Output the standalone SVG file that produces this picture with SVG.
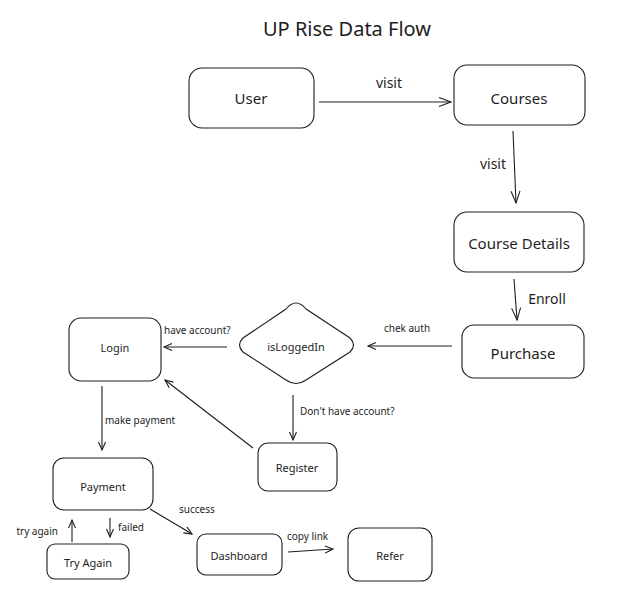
<svg xmlns="http://www.w3.org/2000/svg" width="621" height="613" viewBox="0 0 621 613">
<defs>
<style>
.box{fill:#fff;stroke:#1e1e1e;stroke-width:1.1}
.t{font-family:"Noto Sans","Liberation Sans",sans-serif;fill:#1e1e1e;text-anchor:middle;dominant-baseline:central}
.big{font-size:15px}
.sm{font-size:11px}
.lbl{font-family:"Noto Sans","Liberation Sans",sans-serif;fill:#1e1e1e;font-size:10px;dominant-baseline:central}
.lblb{font-family:"Noto Sans","Liberation Sans",sans-serif;fill:#1e1e1e;font-size:14px;dominant-baseline:central}
.c{fill:none;stroke:#1e1e1e;stroke-width:1.1}
.cl{marker-end:url(#ah)}
.cs{marker-end:url(#as)}
</style>
<marker id="ah" markerUnits="userSpaceOnUse" markerWidth="16" markerHeight="12" refX="13" refY="5" orient="auto">
<path d="M1,0.5 L13,5 L1,9.5" fill="none" stroke="#1e1e1e" stroke-width="1.1"/>
</marker>
<marker id="as" markerUnits="userSpaceOnUse" markerWidth="12" markerHeight="10" refX="9" refY="4" orient="auto">
<path d="M1,0.5 L9,4 L1,7.5" fill="none" stroke="#1e1e1e" stroke-width="1.1"/>
</marker>
</defs>
<rect width="621" height="613" fill="#fff"/>
<text x="347" y="28" class="t" style="font-size:20px">UP Rise Data Flow</text>

<g id="connectors">
<line class="c cl" x1="319" y1="102" x2="451" y2="102"/>
<text x="389" y="82" class="lblb" text-anchor="middle">visit</text>
<line class="c cl" x1="513" y1="131" x2="516" y2="203"/>
<text x="493" y="163" class="lblb" text-anchor="middle">visit</text>
<line class="c cl" x1="514" y1="279" x2="517" y2="320"/>
<text x="547" y="298" class="lblb" text-anchor="middle">Enroll</text>
<line class="c cs" x1="452" y1="346" x2="368" y2="346"/>
<text x="407" y="328" class="lbl" text-anchor="middle">chek auth</text>
<line class="c cs" x1="227" y1="347" x2="164" y2="347"/>
<text x="164" y="330" class="lbl">have account?</text>
<line class="c cs" x1="293" y1="395" x2="293" y2="440"/>
<text x="300" y="411" class="lbl">Don't have account?</text>
<line class="c cs" x1="253" y1="448" x2="165" y2="380"/>
<line class="c cs" x1="102" y1="386" x2="102" y2="450"/>
<text x="105" y="420" class="lbl">make payment</text>
<line class="c cs" x1="72" y1="542" x2="72" y2="520"/>
<text x="58" y="531" class="lbl" text-anchor="end">try again</text>
<line class="c cs" x1="110" y1="518" x2="110" y2="537"/>
<text x="118" y="527" class="lbl">failed</text>
<line class="c cs" x1="150" y1="509" x2="192" y2="534"/>
<text x="179" y="509" class="lbl">success</text>
<line class="c cs" x1="288" y1="552" x2="333" y2="549"/>
<text x="287" y="536" class="lbl">copy link</text>
</g>

<g id="user"><rect class="box" x="189" y="68" width="125" height="60" rx="13"/><text x="251" y="98" class="t big">User</text></g>
<g id="courses"><rect class="box" x="454" y="65" width="131" height="60" rx="13"/><text x="519" y="98" class="t big">Courses</text></g>
<g id="course-details"><rect class="box" x="454" y="212" width="130" height="60" rx="13"/><text x="519" y="243" class="t big">Course Details</text></g>
<g id="purchase"><rect class="box" x="462" y="325" width="122" height="53" rx="12"/><text x="523" y="353" class="t big">Purchase</text></g>
<g id="isloggedin"><path class="box" d="M296,303 Q301,303 306,309 L350,338 Q357,345 350,352 L306,380 Q296,387 286,380 L243,352 Q236,345 243,338 L286,309 Q291,303 296,303 Z"/><text x="296" y="346" class="t sm">isLoggedIn</text></g>
<g id="login"><rect class="box" x="69" y="318" width="92" height="63" rx="12"/><text x="115" y="347" class="t sm">Login</text></g>
<g id="register"><rect class="box" x="258" y="443" width="79" height="48" rx="10"/><text x="297" y="467" class="t sm">Register</text></g>
<g id="payment"><rect class="box" x="53" y="458" width="100" height="52" rx="11"/><text x="103" y="486" class="t sm">Payment</text></g>
<g id="try-again"><rect class="box" x="47" y="544" width="82" height="35" rx="8"/><text x="88" y="562" class="t sm">Try Again</text></g>
<g id="dashboard"><rect class="box" x="197" y="534" width="85" height="41" rx="9"/><text x="239" y="555" class="t sm">Dashboard</text></g>
<g id="refer"><rect class="box" x="348" y="528" width="84" height="53" rx="11"/><text x="390" y="555" class="t sm">Refer</text></g>
</svg>
